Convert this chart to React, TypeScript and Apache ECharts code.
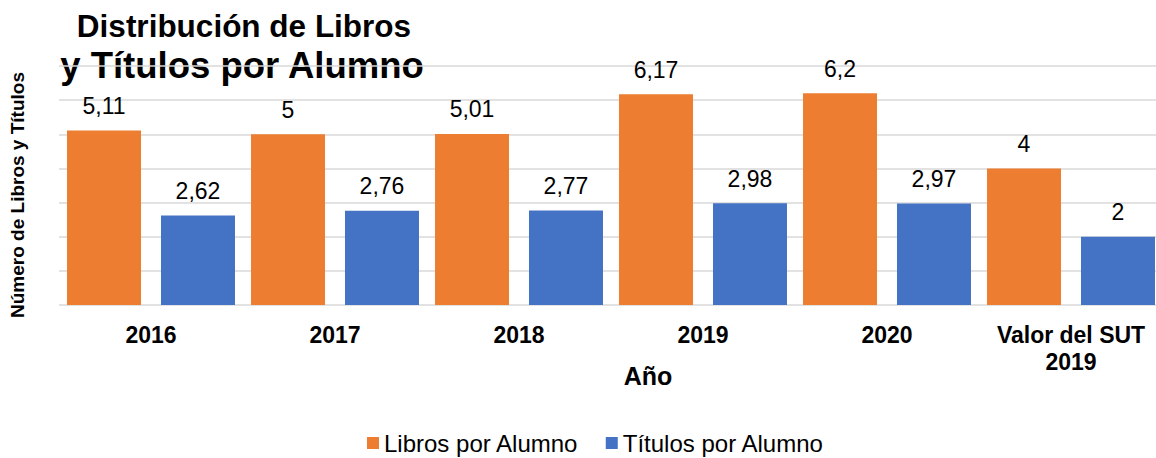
import React, { useEffect, useRef } from "react";
import * as echarts from "echarts";

const categories = ["2016", "2017", "2018", "2019", "2020", "Valor del SUT\n2019"];
const librosPorAlumno = [5.11, 5, 5.01, 6.17, 6.2, 4];
const titulosPorAlumno = [2.62, 2.76, 2.77, 2.98, 2.97, 2];
const seriesNames = ["Libros por Alumno", "Títulos por Alumno"];
const titleLines = ["Distribución de Libros", "y Títulos por Alumno"];
const xAxisTitle = "Año";
const yAxisTitle = "Número de Libros y Títulos";

const FONT = '"Liberation Sans", Arial, Helvetica, sans-serif';
const fmt = (p: any) => String(p.value).replace(".", ",");

export default function App() {
  const ref = useRef<HTMLDivElement>(null);
  useEffect(() => {
    if (!ref.current) return;
    const chart = echarts.init(ref.current, undefined, { renderer: "svg" });
    const label = {
      show: true,
      position: "top",
      distance: 13,
      formatter: fmt,
      color: "#000",
      fontSize: 23,
      fontFamily: FONT,
    };
    chart.setOption({
      animation: false,
      backgroundColor: "#fff",
      textStyle: { fontFamily: FONT },
      grid: {
        left: 59,
        top: 66,
        width: 1104,
        height: 239,
        containLabel: false,
        outerBoundsMode: "none",
      },
      legend: {
        left: 367,
        top: 431,
        padding: 0,
        itemWidth: 12,
        itemHeight: 12,
        itemGap: 27,
        icon: "rect",
        textStyle: { fontSize: 24, lineHeight: 24, color: "#000", fontFamily: FONT },
        data: seriesNames,
      },
      xAxis: {
        type: "category",
        data: categories,
        axisLine: { show: false },
        axisTick: { show: false },
        axisLabel: {
          margin: 16,
          fontSize: 23,
          lineHeight: 27,
          fontWeight: "bold",
          color: "#000",
          fontFamily: FONT,
          interval: 0,
        },
      },
      yAxis: {
        type: "value",
        min: 0,
        max: 7,
        interval: 1,
        axisLabel: { show: false },
        axisLine: { show: false },
        axisTick: { show: false },
        splitLine: { lineStyle: { color: "#d9d9d9", width: 1.5 } },
      },
      series: [
        {
          name: seriesNames[0],
          type: "bar",
          data: librosPorAlumno,
          barWidth: 74,
          barGap: "27%",
          itemStyle: { color: "#ED7D31" },
          label,
        },
        {
          name: seriesNames[1],
          type: "bar",
          data: titulosPorAlumno,
          barWidth: 74,
          barGap: "27%",
          itemStyle: { color: "#4472C4" },
          label,
        },
      ],
      graphic: [
        {
          type: "text",
          x: 244,
          y: 26,
          style: {
            text: titleLines[0],
            fontSize: 31.5,
            fontWeight: "bold",
            fontFamily: FONT,
            fill: "#000",
            align: "center",
            verticalAlign: "middle",
          },
        },
        {
          type: "text",
          x: 242,
          y: 65,
          style: {
            text: titleLines[1],
            fontSize: 36.5,
            fontWeight: "bold",
            fontFamily: FONT,
            fill: "#000",
            align: "center",
            verticalAlign: "middle",
          },
        },
        {
          type: "text",
          x: 648,
          y: 376,
          style: {
            text: xAxisTitle,
            fontSize: 25,
            fontWeight: "bold",
            fontFamily: FONT,
            fill: "#000",
            align: "center",
            verticalAlign: "middle",
          },
        },
        {
          type: "text",
          x: 17,
          y: 195,
          rotation: Math.PI / 2,
          style: {
            text: yAxisTitle,
            fontSize: 19,
            fontWeight: "bold",
            fontFamily: FONT,
            fill: "#000",
            align: "center",
            verticalAlign: "middle",
          },
        },
      ],
    });
    return () => chart.dispose();
  }, []);
  return (
    <div
      ref={ref}
      style={{ position: "fixed", left: 0, top: 0, width: 1156, height: 458 }}
    />
  );
}
